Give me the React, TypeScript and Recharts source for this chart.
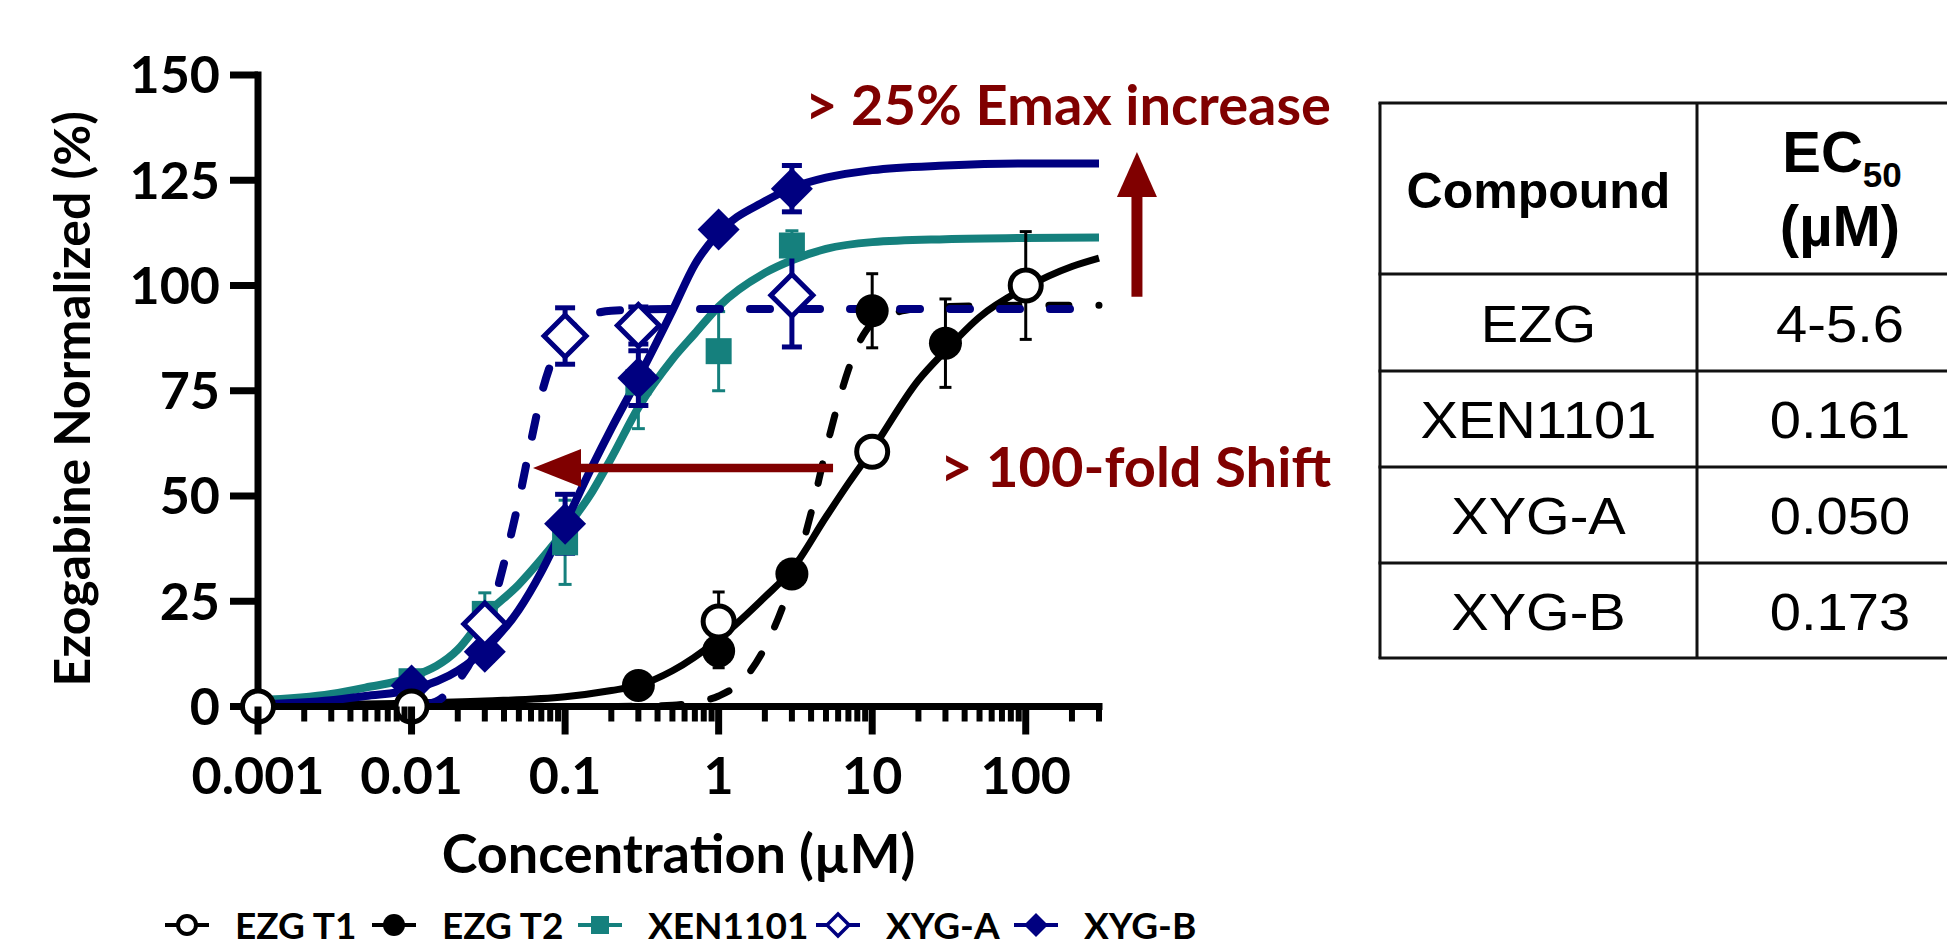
import React from 'react';
import {
  ComposedChart,
  Line,
  Scatter,
  XAxis,
  YAxis,
  ErrorBar,
  ReferenceLine,
  ReferenceDot,
  Legend,
} from 'recharts';

const NAVY = '#000080';
const TEAL = '#15807D';
const DARK_RED = '#800000';
const BLACK = '#000000';

// ---------- measured points (concentration µM, response %, SEM) ----------
const ezgT1Conc = [0.001, 0.01, 1, 10, 100];
const ezgT1Resp = [0, 0, 20.2, 60.5, 100];
const ezgT1Sem = [0, 0, 7, 0, 12.8];

const ezgT2Conc = [0.3, 1, 3, 10, 30];
const ezgT2Resp = [5, 13.2, 31.5, 94, 86.3];
const ezgT2Sem = [0, 4, 0, 8.8, 10.5];

const xenConc = [0.01, 0.03, 0.1, 0.3, 1, 3];
const xenResp = [6, 22, 39, 77, 84.4, 109.5];
const xenSem = [0, 5, 10, 11, 9.4, 3.5];

const xygAConc = [0.03, 0.1, 0.3, 3];
const xygAResp = [19.6, 88, 90.5, 97.7];
const xygASem = [3, 6.7, 4.4, 12.3];

const xygBConc = [0.01, 0.03, 0.1, 0.3, 1, 3];
const xygBResp = [5, 13, 43.4, 78, 113.3, 123];
const xygBSem = [0, 2, 7, 6.5, 0, 5.5];

// ---------- fitted curves ----------
const fitT1Conc = [0.001, 0.003, 0.01, 0.03, 0.1, 0.2, 0.3, 0.5, 1, 2, 3, 5, 7, 10, 20, 30, 50, 100, 200, 300];
const fitT1Resp = [0.3, 0.5, 0.8, 1.3, 2.3, 3.8, 5, 8.5, 16, 26, 32.5, 45, 53, 61, 77.5, 84.5, 92.5, 99.5, 104.5, 106.5];

const fitT2Conc = [0.2, 0.5, 0.7, 1, 1.5, 2, 3, 4, 5, 6, 7, 8, 10, 15, 20, 30, 100, 300];
const fitT2Resp = [0, 0.3, 1, 2.5, 7, 14, 30, 46, 61, 72, 80, 85.5, 91, 93.8, 94.5, 95, 95.3, 95.3];

const fitXenConc = [0.001, 0.003, 0.005, 0.01, 0.02, 0.03, 0.05, 0.07, 0.1, 0.15, 0.2, 0.3, 0.5, 0.7, 1, 2, 3, 5, 10, 30, 100, 300];
const fitXenResp = [1.5, 3, 4.5, 7, 13.5, 21.5, 29, 35, 42, 51, 59, 71, 82.5, 88.6, 95, 103, 106, 108.7, 110.3, 111, 111.3, 111.4];

const fitXygAConc = [0.012, 0.015, 0.02, 0.025, 0.03, 0.035, 0.04, 0.05, 0.06, 0.07, 0.08, 0.1, 0.13, 0.2, 0.5, 1, 10, 300];
const fitXygAResp = [0.5, 1.5, 6, 11.5, 18.5, 26, 34, 49, 63, 74, 81, 88, 92, 94, 94.4, 94.4, 94.4, 94.4];

const fitXygBConc = [0.001, 0.003, 0.005, 0.01, 0.02, 0.03, 0.05, 0.07, 0.1, 0.15, 0.2, 0.3, 0.5, 0.7, 1, 2, 3, 5, 10, 30, 100, 300];
const fitXygBResp = [0.5, 1.5, 2.5, 4, 8.5, 13.5, 23, 32, 43.5, 57, 66, 78, 94, 105, 112.5, 120, 123.2, 125.6, 127.4, 128.5, 129, 129];

// ---------- axes ----------
const xDomain = [0.001, 300];
const majorTicks = [0.001, 0.01, 0.1, 1, 10, 100];
const majorTickLabels = ['0.001', '0.01', '0.1', '1', '10', '100'];
const minorMultipliers = [2, 3, 4, 5, 6, 7, 8, 9];
const yTicks = [0, 25, 50, 75, 100, 125, 150];

// ---------- legend / table text ----------
const seriesNames = ['EZG T1', 'EZG T2', 'XEN1101', 'XYG-A', 'XYG-B'];
const seriesColors = [BLACK, BLACK, TEAL, NAVY, NAVY];
const seriesMarkers = ['openCircle', 'filledCircle', 'square', 'openDiamond', 'filledDiamond'];
const tableCompounds = ['EZG', 'XEN1101', 'XYG-A', 'XYG-B'];
const tableEC50 = ['4-5.6', '0.161', '0.050', '0.173'];

// ---------- annotations (data coordinates) ----------
const shiftArrowY = 56.65;
const shiftArrowFrom = 5.56;
const shiftArrowHeadBase = 0.125;
const shiftArrowTip = 0.0618;
const emaxArrowX = 530;
const emaxArrowFrom = 97.3;
const emaxArrowHeadBase = 121;
const emaxArrowTip = 131.7;

const pts = (xs: number[], ys: number[], es?: number[]) =>
  xs.map((x, i) => ({ x, y: ys[i], e: es && es[i] ? es[i] : undefined }));

const xTicks: number[] = [];
majorTicks.forEach((d) => {
  xTicks.push(d);
  minorMultipliers.forEach((m) => {
    const v = Number((m * d).toPrecision(6));
    if (v <= xDomain[1]) xTicks.push(v);
  });
});

const majorIndex = (v: number) => majorTicks.findIndex((m) => Math.abs(m - v) < m * 1e-6);

const renderXTick = (props: any) => {
  const { x, y, payload } = props;
  const idx = majorIndex(payload.value);
  const major = idx >= 0;
  return (
    <g>
      <line x1={x} x2={x} y1={y} y2={y + (major ? 28 : 15)} stroke="#000" strokeWidth={major ? 7 : 6} />
      {major && (
        <text x={x} y={y + 87} textAnchor="middle" fontSize={52} fontWeight={700} fontFamily="Lato" fill="#000">
          {majorTickLabels[idx]}
        </text>
      )}
    </g>
  );
};

const XLabel = (props: any) => {
  const vb = props.viewBox || { x: 0, y: 0, width: 0 };
  return (
    <text x={vb.x + vb.width / 2} y={vb.y + 166} textAnchor="middle" fontSize={54} fontWeight={700} fontFamily="Lato" fill="#000">
      Concentration (µM)
    </text>
  );
};

const YLabel = (props: any) => {
  const vb = props.viewBox || { x: 0, y: 0, height: 0 };
  const cx = vb.x + 90;
  const cy = vb.y + vb.height / 2 + 8;
  return (
    <text transform={`translate(${cx}, ${cy}) rotate(-90)`} textAnchor="middle" fontSize={50} fontWeight={700} fontFamily="Lato" fill="#000">
      Ezogabine Normalized (%)
    </text>
  );
};

const diamond = (cx: number, cy: number, r: number) =>
  `${cx},${cy - r} ${cx + r},${cy} ${cx},${cy + r} ${cx - r},${cy}`;

const OpenCircle = (p: any) => <circle cx={p.cx} cy={p.cy} r={15.5} fill="#fff" stroke={BLACK} strokeWidth={5} />;
const FilledCircle = (p: any) => <circle cx={p.cx} cy={p.cy} r={16.5} fill={BLACK} />;
const TealSquare = (p: any) => <rect x={p.cx - 13} y={p.cy - 13} width={26} height={26} fill={TEAL} />;
const OpenDiamond = (p: any) => <polygon points={diamond(p.cx, p.cy, 21)} fill="#fff" stroke={NAVY} strokeWidth={5} />;
const FilledDiamond = (p: any) => <polygon points={diamond(p.cx, p.cy, 21)} fill={NAVY} />;

const LeftHead = (p: any) => (
  <polygon points={`${p.cx},${p.cy} ${p.cx + 48},${p.cy - 19} ${p.cx + 48},${p.cy + 19}`} fill={DARK_RED} />
);
const UpHead = (p: any) => (
  <polygon points={`${p.cx},${p.cy} ${p.cx - 20},${p.cy + 45} ${p.cx + 20},${p.cy + 45}`} fill={DARK_RED} />
);

const LegendIcon = ({ kind, color }: { kind: string; color: string }) => (
  <svg width={44} height={30} style={{ display: 'block' }}>
    <line x1={0} x2={44} y1={15} y2={15} stroke={color} strokeWidth={4} />
    {kind === 'openCircle' && <circle cx={22} cy={15} r={9} fill="#fff" stroke={color} strokeWidth={4} />}
    {kind === 'filledCircle' && <circle cx={22} cy={15} r={11} fill={color} />}
    {kind === 'square' && <rect x={13} y={6} width={18} height={18} fill={color} />}
    {kind === 'openDiamond' && <polygon points={diamond(22, 15, 11)} fill="#fff" stroke={color} strokeWidth={3.5} />}
    {kind === 'filledDiamond' && <polygon points={diamond(22, 15, 12)} fill={color} />}
  </svg>
);

const legendLeft = [165, 372, 578, 816, 1014];

const renderLegend = () => (
  <div style={{ position: 'relative', width: 1300, height: 44 }}>
    {seriesNames.map((name, i) => (
      <div
        key={name}
        style={{ position: 'absolute', left: legendLeft[i], top: 0, height: 44, display: 'flex', alignItems: 'center' }}
      >
        <LegendIcon kind={seriesMarkers[i]} color={seriesColors[i]} />
        <span style={{ marginLeft: 26, fontFamily: 'Lato', fontSize: 37, fontWeight: 700, lineHeight: '44px', color: '#000', whiteSpace: 'nowrap' }}>
          {name}
        </span>
      </div>
    ))}
  </div>
);

const tableRowY = [103, 274, 371, 467, 563, 658];
const tableColX = [1380, 1697, 1984];

export default function App() {
  const t1 = pts(ezgT1Conc, ezgT1Resp, ezgT1Sem);
  const t2 = pts(ezgT2Conc, ezgT2Resp, ezgT2Sem);
  const xen = pts(xenConc, xenResp, xenSem);
  const xa = pts(xygAConc, xygAResp, xygASem);
  const xb = pts(xygBConc, xygBResp, xygBSem);

  const lineCommon = {
    dataKey: 'y',
    type: 'monotone' as const,
    dot: false,
    activeDot: false,
    isAnimationActive: false,
    legendType: 'none' as const,
  };

  return (
    <div style={{ position: 'fixed', left: 0, top: 0, width: 1947, height: 947, overflow: 'hidden', background: '#fff' }}>
      <div style={{ position: 'absolute', left: 0, top: 0 }}>
        <ComposedChart width={1370} height={947} margin={{ top: 75, right: 271, bottom: 60.5, left: 0 }}>
          <XAxis
            dataKey="x"
            type="number"
            scale="log"
            domain={xDomain}
            ticks={xTicks}
            interval={0}
            tickSize={0}
            tickMargin={0}
            tickLine={false}
            tick={renderXTick}
            height={180}
            axisLine={{ stroke: '#000', strokeWidth: 7, strokeLinecap: 'square' }}
            label={{ content: XLabel }}
          />
          <YAxis
            type="number"
            domain={[0, 150]}
            ticks={yTicks}
            interval={0}
            width={258}
            tickSize={28}
            tickMargin={10}
            tickLine={{ stroke: '#000', strokeWidth: 7 }}
            axisLine={{ stroke: '#000', strokeWidth: 7, strokeLinecap: 'square' }}
            tick={{ fill: '#000', fontSize: 52, fontWeight: 700, fontFamily: 'Lato' }}
            label={{ content: YLabel }}
          />

          <Line {...lineCommon} name="XEN1101 fit" data={pts(fitXenConc, fitXenResp)} stroke={TEAL} strokeWidth={8} />
          <Line {...lineCommon} name="EZG T1 fit" data={pts(fitT1Conc, fitT1Resp)} stroke={BLACK} strokeWidth={7} />
          <Line
            {...lineCommon}
            name="EZG T2 fit"
            data={pts(fitT2Conc, fitT2Resp)}
            stroke={BLACK}
            strokeWidth={7}
            strokeDasharray="20 30"
            strokeLinecap="round"
          />

          <Scatter name="XEN1101" data={xen} dataKey="y" shape={TealSquare} isAnimationActive={false} legendType="none">
            <ErrorBar dataKey="e" direction="y" width={6.5} stroke={TEAL} strokeWidth={3} />
          </Scatter>
          <Scatter name="EZG T2" data={t2} dataKey="y" shape={FilledCircle} isAnimationActive={false} legendType="none">
            <ErrorBar dataKey="e" direction="y" width={6} stroke={BLACK} strokeWidth={3} />
          </Scatter>

          <Line {...lineCommon} name="XYG-B fit" data={pts(fitXygBConc, fitXygBResp)} stroke={NAVY} strokeWidth={8} />
          <Scatter name="XYG-B" data={xb} dataKey="y" shape={FilledDiamond} isAnimationActive={false} legendType="none">
            <ErrorBar dataKey="e" direction="y" width={10} stroke={NAVY} strokeWidth={5} />
          </Scatter>

          <Line
            {...lineCommon}
            name="XYG-A fit"
            data={pts(fitXygAConc, fitXygAResp)}
            stroke={NAVY}
            strokeWidth={8}
            strokeDasharray="20 30"
            strokeLinecap="round"
          />
          <Scatter name="XYG-A" data={xa} dataKey="y" shape={OpenDiamond} isAnimationActive={false} legendType="none">
            <ErrorBar dataKey="e" direction="y" width={10} stroke={NAVY} strokeWidth={5} />
          </Scatter>

          <Scatter name="EZG T1" data={t1} dataKey="y" shape={OpenCircle} isAnimationActive={false} legendType="none">
            <ErrorBar dataKey="e" direction="y" width={6} stroke={BLACK} strokeWidth={3} />
          </Scatter>

          <ReferenceLine
            segment={[
              { x: shiftArrowFrom, y: shiftArrowY },
              { x: shiftArrowHeadBase, y: shiftArrowY },
            ]}
            stroke={DARK_RED}
            strokeWidth={8.5}
            ifOverflow="visible"
          />
          <ReferenceDot x={shiftArrowTip} y={shiftArrowY} ifOverflow="visible" shape={LeftHead} />
          <ReferenceLine
            segment={[
              { x: emaxArrowX, y: emaxArrowFrom },
              { x: emaxArrowX, y: emaxArrowHeadBase },
            ]}
            stroke={DARK_RED}
            strokeWidth={11}
            ifOverflow="visible"
          />
          <ReferenceDot x={emaxArrowX} y={emaxArrowTip} ifOverflow="visible" shape={UpHead} />

          <Legend
            verticalAlign="middle"
            align="center"
            layout="horizontal"
            content={renderLegend}
            wrapperStyle={{ position: 'absolute', left: 0, top: 903, width: 1300, height: 44 }}
          />
        </ComposedChart>
      </div>

      <svg width={1947} height={947} style={{ position: 'absolute', left: 0, top: 0, pointerEvents: 'none' }}>
        <text x={1331} y={125} textAnchor="end" fontFamily="Lato" fontWeight={700} fontSize={56} fill={DARK_RED}>
          {'> 25% Emax increase'}
        </text>
        <text x={1331} y={487} textAnchor="end" fontFamily="Lato" fontWeight={700} fontSize={56} fill={DARK_RED}>
          {'> 100-fold Shift'}
        </text>

        {tableRowY.map((y) => (
          <line key={'h' + y} x1={tableColX[0] - 1.5} x2={tableColX[2]} y1={y} y2={y} stroke="#111" strokeWidth={3} />
        ))}
        {tableColX.map((x) => (
          <line key={'v' + x} x1={x} x2={x} y1={tableRowY[0]} y2={tableRowY[tableRowY.length - 1]} stroke="#111" strokeWidth={3} />
        ))}

        <text x={(tableColX[0] + tableColX[1]) / 2} y={208} textAnchor="middle" fontFamily="'Liberation Sans', Arial" fontWeight={700} fontSize={50} fill="#000">
          Compound
        </text>
        <text x={1842} y={172} textAnchor="middle" fontFamily="'Liberation Sans', Arial" fontWeight={700} fill="#000">
          <tspan fontSize={58}>EC</tspan>
          <tspan fontSize={35} dy={15}>50</tspan>
        </text>
        <text x={1840} y={246} textAnchor="middle" fontFamily="'Liberation Sans', Arial" fontWeight={700} fontSize={58} fill="#000">
          (µM)
        </text>

        {tableCompounds.map((name, i) => {
          const cy = (tableRowY[i + 1] + tableRowY[i + 2]) / 2 + 19;
          return (
            <g key={name}>
              <text
                transform={`translate(${(tableColX[0] + tableColX[1]) / 2}, ${cy}) scale(1.1, 1)`}
                textAnchor="middle"
                fontFamily="'Liberation Sans', Arial"
                fontSize={51}
                fill="#000"
              >
                {name}
              </text>
              <text
                transform={`translate(1840, ${cy}) scale(1.1, 1)`}
                textAnchor="middle"
                fontFamily="'Liberation Sans', Arial"
                fontSize={51}
                fill="#000"
              >
                {tableEC50[i]}
              </text>
            </g>
          );
        })}
      </svg>
    </div>
  );
}
